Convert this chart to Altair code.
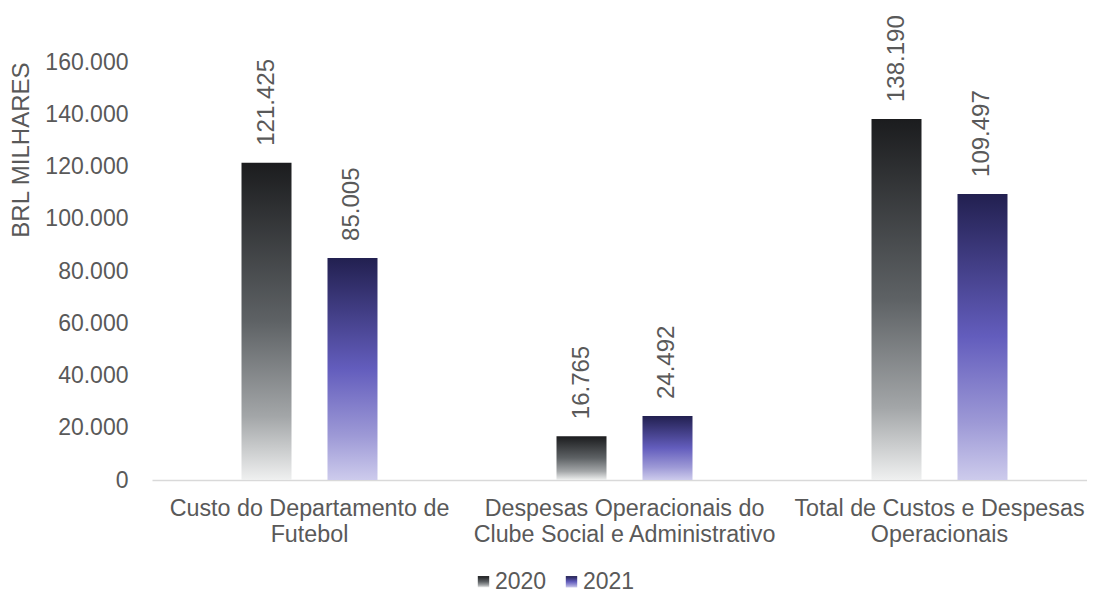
import altair as alt
import pandas as pd

categories = [
    "Custo do Departamento de Futebol",
    "Despesas Operacionais do Clube Social e Administrativo",
    "Total de Custos e Despesas Operacionais",
]
category_lines = [
    ["Custo do Departamento de", "Futebol"],
    ["Despesas Operacionais do", "Clube Social e Administrativo"],
    ["Total de Custos e Despesas", "Operacionais"],
]
years = ["2020", "2021"]
values_2020 = [121425, 16765, 138190]
values_2021 = [85005, 24492, 109497]
y_ticks = [0, 20000, 40000, 60000, 80000, 100000, 120000, 140000, 160000]

rows = []
for i, c in enumerate(categories):
    rows.append({"categoria": c, "ano": "2020", "valor": values_2020[i]})
    rows.append({"categoria": c, "ano": "2021", "valor": values_2021[i]})
df = pd.DataFrame(rows)

TEXT = "#595959"
FONT = "Liberation Sans"


def grad_expr(stops):
    s = ",".join("{offset:%s,color:'%s'}" % (o, c) for o, c in stops)
    return "{gradient:'linear',x1:0,y1:0,x2:0,y2:1,stops:[" + s + "]}"


grad_2020 = grad_expr([(0, "#1b1c1e"), (0.5, "#5e6265"), (0.8, "#a3a6a8"), (1, "#eff0f0")])
grad_2021 = grad_expr([(0, "#222050"), (0.5, "#635dbd"), (0.8, "#9d99d6"), (1, "#cdcbec")])

label_map = "{" + ",".join(
    "'%s':[%s]" % (c, ",".join("'%s'" % l for l in lines))
    for c, lines in zip(categories, category_lines)
) + "}"

x_enc = alt.X(
    "categoria:N",
    sort=categories,
    scale=alt.Scale(range=[0, 945], paddingInner=0.5683, paddingOuter=0.28415),
    axis=alt.Axis(
        title=None,
        labelAngle=0,
        labelFontSize=23.3,
        labelColor=TEXT,
        labelFont=FONT,
        labelLineHeight=26,
        labelPadding=17,
        labelExpr=label_map + "[datum.value]",
        ticks=False,
        domainColor="#d9d9d9",
        domainWidth=1.5,
        labelLimit=400,
    ),
)
xoff_enc = alt.XOffset(
    "ano:N", sort=years, scale=alt.Scale(paddingInner=0.4186, paddingOuter=0)
)
y_enc = alt.Y(
    "valor:Q",
    scale=alt.Scale(domain=[0, 160000], nice=False),
    axis=alt.Axis(
        title="BRL MILHARES",
        titleFontSize=24,
        titleFontWeight="normal",
        titleColor=TEXT,
        titleFont=FONT,
        titleAnchor="end",
        titleX=-124,
        titleBaseline="alphabetic",
        values=y_ticks,
        labelExpr="replace(format(datum.value, ','), ',', '.')",
        labelFontSize=23,
        labelColor=TEXT,
        labelFont=FONT,
        labelPadding=24,
        tickSize=0,
        ticks=False,
        domain=False,
        grid=False,
    ),
)

bars = alt.Chart(df).mark_bar().encode(
    x=x_enc,
    xOffset=xoff_enc,
    y=y_enc,
    color=alt.Color(
        "ano:N",
        sort=years,
        scale=alt.Scale(domain=years, range=[{"expr": grad_2020}, {"expr": grad_2021}]),
        legend=alt.Legend(
            title=None,
            orient="none",
            direction="horizontal",
            legendX=320,
            legendY=508,
            symbolType="square",
            symbolSize=130,
            symbolStrokeWidth=0,
            labelFontSize=23,
            labelColor=TEXT,
            labelFont=FONT,
            labelOffset=0,
            columnPadding=13,
        ),
    ),
)

labels = alt.Chart(df).transform_calculate(
    rotulo="replace(format(datum.valor, ','), ',', '.')"
).mark_text(
    angle=270, align="left", baseline="middle", dx=17, fontSize=24, color=TEXT, font=FONT
).encode(x=x_enc, xOffset=xoff_enc, y=y_enc, text="rotulo:N")

chart = (
    alt.layer(bars, labels)
    .properties(
        width=935,
        height=418,
        background="white",
        autosize=alt.AutoSizeParams(type="none"),
        padding={"left": 144, "top": 54, "right": 0, "bottom": 113},
    )
    .configure_view(strokeWidth=0, stroke="transparent")
)

chart.save("out.html", embed_options={"renderer": "svg", "actions": False})
